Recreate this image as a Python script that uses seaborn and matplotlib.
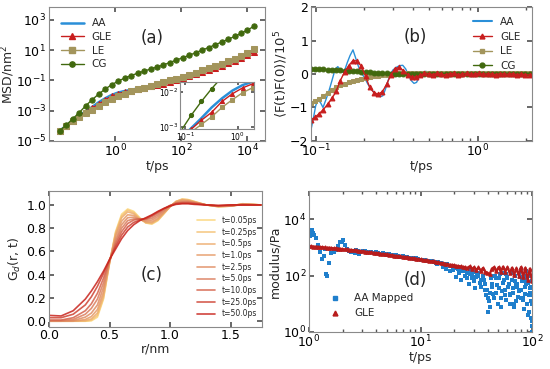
import matplotlib
matplotlib.use("Agg")
import numpy as np
import matplotlib.pyplot as plt
from matplotlib.lines import Line2D
from matplotlib.ticker import LogLocator, NullLocator, FixedLocator, NullFormatter
import seaborn as sns

# ---------------- (a) MSD, values are log10(MSD / nm^2) ----------------
t_msd = [0.0214, 0.0336, 0.0527, 0.0828, 0.130, 0.204, 0.321, 0.504, 0.791, 1.24,
         1.95, 3.06, 4.81, 7.55, 11.9, 18.6, 29.2, 45.9, 72.1, 113,
         178, 279, 439, 689, 1081, 1698, 2667, 4188, 6577, 10328, 16218]
msd_aa = [-4.31, -3.98, -3.65, -3.34, -3.04, -2.75, -2.44, -2.18, -1.96, -1.80,
          -1.70, -1.62, -1.54, -1.46, -1.38, -1.29, -1.19, -1.08, -0.96, -0.84,
          -0.71, -0.58, -0.44, -0.30, -0.15, 0.01, 0.17, 0.34, 0.52, 0.72, 0.95]
msd_gle = [-4.31, -3.99, -3.67, -3.36, -3.07, -2.81, -2.58, -2.27, -2.05, -1.88,
           -1.76, -1.67, -1.58, -1.49, -1.40, -1.31, -1.21, -1.10, -0.99, -0.87,
           -0.74, -0.61, -0.47, -0.33, -0.19, -0.04, 0.12, 0.28, 0.46, 0.66, 0.88]
msd_le = [-4.31, -4.00, -3.70, -3.42, -3.15, -2.93, -2.71, -2.44, -2.22, -2.02,
          -1.87, -1.73, -1.60, -1.48, -1.36, -1.24, -1.12, -1.00, -0.88, -0.75,
          -0.62, -0.48, -0.34, -0.20, -0.05, 0.10, 0.27, 0.44, 0.63, 0.83, 1.05]
msd_cg = [-4.31, -3.94, -3.53, -3.12, -2.67, -2.27, -1.90, -1.57, -1.29, -1.05,
          -0.85, -0.68, -0.53, -0.39, -0.25, -0.12, 0.02, 0.18, 0.34, 0.50,
          0.66, 0.83, 1.00, 1.17, 1.35, 1.53, 1.71, 1.90, 2.10, 2.33, 2.57]

# ---------------- (b) force autocorrelation / 1e5 ----------------
t_acf_aa = [0.0935, 0.097, 0.100, 0.103, 0.107, 0.111, 0.115, 0.120, 0.126, 0.132,
            0.137, 0.142, 0.147, 0.152, 0.157, 0.163, 0.170, 0.176, 0.183, 0.190,
            0.200, 0.210, 0.220, 0.230, 0.240, 0.250, 0.260, 0.270, 0.280, 0.290,
            0.300, 0.315, 0.330, 0.345, 0.360, 0.375, 0.390, 0.405, 0.420, 0.440,
            0.460, 0.480, 0.500, 0.53, 0.56, 0.60, 0.64, 0.68, 0.72, 0.77,
            0.82, 0.88, 0.94, 1.00, 1.07, 1.15, 1.23, 1.32, 1.42, 1.52,
            1.63, 1.75, 1.88, 2.00, 2.15]
acf_aa = [-1.67, -1.30, -0.95, -0.78, -0.85, -1.00, -0.80, -0.55, -0.20, 0.15,
          0.22, 0.12, 0.05, 0.15, 0.35, 0.55, 0.72, 0.50, 0.25, 0.05,
          -0.10, -0.30, -0.45, -0.55, -0.62, -0.68, -0.65, -0.45, -0.20, 0.00,
          0.12, 0.20, 0.25, 0.26, 0.15, -0.05, -0.20, -0.28, -0.25, -0.05,
          0.05, 0.08, 0.02, -0.04, 0.03, -0.02, 0.04, 0.00, -0.03, 0.02,
          0.01, -0.02, 0.03, 0.00, -0.02, 0.02, 0.00, -0.01, 0.02, -0.02,
          0.01, 0.00, -0.02, 0.01, -0.02]
t_acf = [0.0933, 0.0991, 0.1052, 0.1117, 0.1186, 0.1259, 0.1337, 0.1419, 0.1507, 0.1600,
         0.1698, 0.1803, 0.1914, 0.2032, 0.2158, 0.2291, 0.2432, 0.2582, 0.2742, 0.2911,
         0.3090, 0.3281, 0.3483, 0.3698, 0.3926, 0.4169, 0.4426, 0.4699, 0.4989, 0.5297,
         0.5623, 0.5970, 0.6339, 0.6730, 0.7145, 0.7586, 0.8054, 0.8551, 0.9078, 0.9638,
         1.0233, 1.0864, 1.1535, 1.2246, 1.3002, 1.3804, 1.4655, 1.5560, 1.6520, 1.7539,
         1.8621, 1.9770, 2.0989]
acf_gle = [-1.37, -1.29, -1.18, -1.06, -0.90, -0.73, -0.52, -0.20, 0.06, 0.25,
           0.40, 0.39, 0.23, -0.07, -0.40, -0.56, -0.60, -0.53, -0.31, -0.03,
           0.16, 0.20, 0.10, -0.02, -0.09, -0.10, -0.04, 0.02, 0.01, -0.02,
           0.02, 0.00, -0.03, 0.01, 0.02, -0.02, 0.00, 0.02, -0.01, 0.00,
           0.02, -0.01, 0.01, 0.00, -0.02, 0.01, 0.00, -0.01, 0.01, -0.02,
           0.00, -0.02, -0.03]
acf_le = [-0.87, -0.81, -0.74, -0.65, -0.56, -0.48, -0.38, -0.33, -0.29, -0.24,
          -0.21, -0.19, -0.15, -0.13, -0.09, -0.07, -0.06, -0.04, -0.02, 0.00,
          0.01, 0.02, 0.02, 0.03, 0.03, 0.03, 0.03, 0.02, 0.03, 0.03,
          0.03, 0.02, 0.03, 0.03, 0.02, 0.03, 0.03, 0.02, 0.03, 0.02,
          0.03, 0.02, 0.02, 0.03, 0.02, 0.02, 0.03, 0.02, 0.02, 0.02,
          0.03, 0.02, 0.02]
acf_cg = [0.15, 0.145, 0.14, 0.135, 0.13, 0.12, 0.115, 0.11, 0.10, 0.09,
          0.085, 0.075, 0.065, 0.055, 0.045, 0.04, 0.03, 0.025, 0.02, 0.015,
          0.01, 0.005, 0.005, 0.00, 0.00, 0.01, 0.00, 0.01, 0.00, 0.01,
          0.00, 0.01, 0.00, 0.01, 0.01, 0.00, 0.01, 0.00, 0.01, 0.01,
          0.00, 0.01, 0.01, 0.00, 0.01, 0.01, 0.00, 0.01, 0.01, 0.00,
          0.01, 0.01, 0.01]

# ---------------- (c) G_d(r, t) ----------------
r_nm = [0.0, 0.1, 0.2, 0.3, 0.35, 0.4, 0.45, 0.5, 0.55, 0.6, 0.65, 0.7, 0.75, 0.8,
        0.85, 0.9, 0.95, 1.0, 1.05, 1.1, 1.15, 1.2, 1.3, 1.4, 1.5, 1.6, 1.75]
gd_labels = ["t=0.05ps", "t=0.25ps", "t=0.5ps", "t=1.0ps", "t=2.5ps",
             "t=5.0ps", "t=10.0ps", "t=25.0ps", "t=50.0ps"]
gd_005 = [0, 0, 0, 0, 0.003, 0.035, 0.19, 0.50, 0.77, 0.92, 0.965, 0.945, 0.89, 0.845,
          0.835, 0.865, 0.925, 0.985, 1.03, 1.05, 1.045, 1.03, 1.0, 0.985, 0.99, 1.01, 1.0]
gd_025 = [0, 0, 0, 0, 0.01, 0.05, 0.20, 0.50, 0.76, 0.905, 0.955, 0.935, 0.885, 0.845,
          0.84, 0.87, 0.925, 0.985, 1.03, 1.05, 1.045, 1.03, 1.0, 0.985, 0.99, 1.01, 1.0]
gd_05 = [0, 0, 0, 0.005, 0.02, 0.07, 0.22, 0.50, 0.75, 0.89, 0.94, 0.925, 0.88, 0.85,
         0.845, 0.875, 0.93, 0.985, 1.03, 1.045, 1.04, 1.025, 1.0, 0.985, 0.99, 1.01, 1.0]
gd_1 = [0, 0, 0, 0.015, 0.04, 0.10, 0.25, 0.51, 0.73, 0.86, 0.915, 0.91, 0.875, 0.855,
        0.855, 0.885, 0.935, 0.985, 1.025, 1.04, 1.035, 1.025, 1.0, 0.99, 0.99, 1.005, 1.0]
gd_25 = [0, 0, 0.005, 0.035, 0.07, 0.14, 0.29, 0.51, 0.70, 0.83, 0.89, 0.895, 0.875, 0.865,
         0.87, 0.90, 0.945, 0.99, 1.02, 1.03, 1.03, 1.02, 1.0, 0.99, 0.99, 1.005, 1.0]
gd_5 = [0.005, 0.005, 0.015, 0.06, 0.11, 0.19, 0.33, 0.52, 0.68, 0.80, 0.865, 0.88, 0.88, 0.875,
        0.885, 0.915, 0.955, 0.99, 1.015, 1.025, 1.025, 1.02, 1.0, 0.99, 0.995, 1.005, 1.0]
gd_10 = [0.01, 0.01, 0.03, 0.09, 0.15, 0.24, 0.37, 0.52, 0.66, 0.77, 0.84, 0.87, 0.88, 0.88,
         0.90, 0.93, 0.965, 0.995, 1.015, 1.02, 1.02, 1.015, 1.0, 0.99, 0.995, 1.0, 1.0]
gd_25b = [0.03, 0.03, 0.06, 0.14, 0.21, 0.30, 0.41, 0.53, 0.64, 0.74, 0.81, 0.85, 0.87, 0.885,
          0.91, 0.94, 0.97, 0.995, 1.01, 1.015, 1.015, 1.01, 1.0, 0.995, 1.0, 1.0, 1.0]
gd_50 = [0.05, 0.045, 0.09, 0.19, 0.26, 0.34, 0.43, 0.53, 0.62, 0.71, 0.78, 0.83, 0.865, 0.89,
         0.915, 0.945, 0.97, 0.99, 1.005, 1.01, 1.01, 1.005, 1.0, 0.995, 1.0, 1.0, 1.0]
gd_curves = [gd_005, gd_025, gd_05, gd_1, gd_25, gd_5, gd_10, gd_25b, gd_50]

# ---------------- (d) modulus, values are log10(G / Pa) ----------------
t_mod = [1.0, 1.047, 1.096, 1.148, 1.202, 1.259, 1.318, 1.380, 1.445, 1.514,
         1.585, 1.660, 1.738, 1.820, 1.905, 1.995, 2.089, 2.188, 2.291, 2.399,
         2.512, 2.630, 2.754, 2.884, 3.020, 3.162, 3.311, 3.467, 3.631, 3.802,
         3.981, 4.169, 4.365, 4.571, 4.786, 5.012, 5.248, 5.495, 5.754, 6.026,
         6.310, 6.607, 6.918, 7.244, 7.586, 7.943, 8.318, 8.710, 9.120, 9.550,
         10.0, 10.47, 10.96, 11.48, 12.02, 12.59, 13.18, 13.80, 14.45, 15.14,
         15.85, 16.60, 17.38, 18.20, 19.05, 19.95, 20.89, 21.88, 22.91, 23.99,
         25.12, 26.30, 27.54, 28.84, 30.20, 31.62, 33.11, 34.67, 36.31, 38.02,
         39.81, 41.69, 43.65, 45.71, 47.86, 50.12, 52.48, 54.95, 57.54, 60.26,
         63.10, 66.07, 69.18, 72.44, 75.86, 79.43, 83.18, 87.10, 91.20, 95.50, 100.0]
mod_gle = [3.04, 3.04, 3.03, 3.03, 3.02, 3.01, 3.01, 3.00, 2.99, 2.99,
           2.98, 2.97, 2.97, 2.96, 2.95, 2.94, 2.93, 2.93, 2.92, 2.91,
           2.90, 2.89, 2.88, 2.87, 2.86, 2.85, 2.84, 2.83, 2.82, 2.81,
           2.80, 2.79, 2.78, 2.77, 2.76, 2.75, 2.74, 2.73, 2.71, 2.70,
           2.69, 2.68, 2.67, 2.66, 2.65, 2.64, 2.62, 2.61, 2.60, 2.59,
           2.58, 2.56, 2.55, 2.54, 2.52, 2.51, 2.50, 2.48, 2.47, 2.45,
           2.44, 2.42, 2.41, 2.39, 2.38, 2.37, 2.35, 2.34, 2.33, 2.31,
           2.30, 2.26, 2.33, 2.22, 2.30, 2.20, 2.29, 2.17, 2.27, 2.14,
           2.10, 2.05, 2.25, 2.30, 2.15, 2.30, 2.12, 2.32, 2.14, 2.30,
           2.08, 2.28, 2.02, 2.26, 2.00, 2.30, 1.95, 2.28, 1.85, 2.25, 1.80]
mod_aa = [3.55, 3.45, 3.50, 3.35, 3.10, 2.85, 2.60, 2.95, 2.00, 2.45,
          2.80, 2.85, 2.92, 3.05, 3.18, 3.20, 3.10, 2.95, 2.88, 2.85,
          2.88, 2.90, 2.88, 2.84, 2.86, 2.88, 2.85, 2.83, 2.82, 2.80,
          2.82, 2.79, 2.78, 2.80, 2.76, 2.74, 2.76, 2.72, 2.70, 2.73,
          2.69, 2.66, 2.68, 2.65, 2.66, 2.62, 2.64, 2.60, 2.62, 2.58,
          2.57, 2.55, 2.56, 2.52, 2.53, 2.50, 2.49, 2.46, 2.47, 2.43,
          2.42, 2.38, 2.40, 2.35, 2.33, 2.30, 2.28, 2.25, 2.22, 2.25,
          2.18, 2.10, 2.20, 2.05, 2.12, 1.95, 2.10, 1.85, 2.00, 1.70,
          1.50, 0.90, 1.60, 2.00, 1.40, 1.90, 1.20, 2.10, 1.50, 1.90,
          1.30, 2.10, 1.00, 1.70, 1.50, 2.20, 1.20, 1.80, 0.60, 1.40, 0.40]
t_mod_extra = [1.02, 1.06, 1.12, 1.35, 1.42, 1.9, 2.0, 2.6, 2.8, 22,
               24, 26, 28, 30, 33, 35, 37, 39, 40, 41,
               42, 44, 46, 48, 51, 53, 55, 57, 59, 61,
               63, 66, 68, 70, 72, 74, 76, 78, 80, 82,
               84, 86, 88, 90, 92, 94, 96, 97, 98, 99, 100, 100,
               21, 23, 25, 27, 29, 31, 32, 34, 36, 38,
               40.5, 43, 45, 47, 49, 50, 52, 54, 56, 58,
               60, 62, 64, 65, 67, 69, 71, 73, 75, 77,
               79, 81, 83, 85, 87, 89, 91, 93, 95, 97,
               98.5, 99.5, 17, 18.5, 19.5, 16, 14, 12.5, 11, 9.5]
mod_aa_extra = [3.40, 3.60, 3.45, 2.70, 2.05, 3.20, 3.25, 2.80, 2.78, 2.10,
                2.15, 1.90, 2.05, 1.80, 2.00, 1.60, 1.85, 1.30, 0.70, 1.10,
                1.40, 1.70, 1.20, 1.90, 1.55, 0.90, 1.75, 1.30, 2.05, 1.60,
                1.00, 1.85, 1.40, 2.00, 1.10, 1.70, 1.45, 1.95, 1.20, 1.80,
                0.80, 1.60, 2.15, 1.00, 1.75, 1.30, 2.00, 1.10, 1.60, 0.20, 1.00, 0.00,
                1.95, 1.85, 2.00, 1.70, 1.90, 1.55, 2.10, 1.75, 1.95, 1.50,
                1.20, 1.90, 1.35, 2.00, 1.65, 1.00, 2.05, 1.45, 1.85, 1.15,
                1.95, 1.70, 1.35, 2.10, 1.55, 0.90, 1.80, 1.60, 1.25, 2.10,
                1.50, 1.85, 1.15, 2.00, 1.35, 1.70, 1.90, 0.70, 1.55, 1.30,
                0.50, 1.80, 2.25, 2.15, 2.20, 2.30, 2.40, 2.50, 2.55, 2.60]

# ---------------- style ----------------
sns.set_theme(style="ticks", rc={
    "xtick.direction": "in", "ytick.direction": "in",
    "xtick.top": True, "ytick.right": True,
    "axes.edgecolor": "#8a8a8a", "axes.linewidth": 0.8,
    "xtick.color": "#555555", "ytick.color": "#555555",
    "xtick.labelcolor": "black", "ytick.labelcolor": "black",
    "xtick.major.size": 3.5, "ytick.major.size": 3.5,
    "xtick.minor.size": 2, "ytick.minor.size": 2,
    "xtick.major.pad": 1.5, "ytick.major.pad": 2.0,
    "font.size": 9, "axes.labelsize": 9,
    "xtick.labelsize": 9, "ytick.labelsize": 9,
    "legend.frameon": False, "axes.labelpad": 0.5,
})
plt.rcParams["font.family"] = ["DejaVu Sans"]

c_aa, c_gle, c_le, c_cg = "#2a8fd8", "#c81e1e", "#a3955c", "#41690e"

fig = plt.figure(figsize=(5.5, 3.69), dpi=100)
ax_a = fig.add_axes([0.0891, 0.6179, 0.3927, 0.3631])
ax_b = fig.add_axes([0.5655, 0.6179, 0.4018, 0.3631])
ax_c = fig.add_axes([0.0891, 0.1138, 0.3873, 0.3686])
ax_d = fig.add_axes([0.5618, 0.1003, 0.4055, 0.3821])
ax_in = fig.add_axes([0.3273, 0.6504, 0.1345, 0.1274])


def msd_lines(ax, ms):
    sns.lineplot(x=t_msd, y=10 ** np.array(msd_aa), ax=ax, color=c_aa, lw=1.8, errorbar=None)
    sns.lineplot(x=t_msd, y=10 ** np.array(msd_gle), ax=ax, color=c_gle, lw=1.0,
                 marker="^", ms=ms, mec=c_gle, errorbar=None)
    sns.lineplot(x=t_msd, y=10 ** np.array(msd_le), ax=ax, color=c_le, lw=1.0,
                 marker="s", ms=ms, mec=c_le, errorbar=None)
    sns.lineplot(x=t_msd, y=10 ** np.array(msd_cg), ax=ax, color=c_cg, lw=1.0,
                 marker="o", ms=ms, mec=c_cg, errorbar=None)


# (a)
msd_lines(ax_a, 3.8)
ax_a.set_xscale("log")
ax_a.set_yscale("log")
ax_a.set_xlim(1e-2, 3.5e4)
ax_a.set_ylim(1e-5, 7e3)
ax_a.xaxis.set_major_locator(FixedLocator([1, 1e2, 1e4]))
ax_a.yaxis.set_major_locator(FixedLocator([1e-5, 1e-3, 1e-1, 1e1, 1e3]))
ax_a.xaxis.set_minor_locator(NullLocator())
ax_a.yaxis.set_minor_locator(NullLocator())
ax_a.set_xlabel("t/ps")
ax_a.set_ylabel("MSD/nm$^2$")
ax_a.yaxis.set_label_coords(-0.15, 0.5)
ax_a.text(0.477, 0.77, "(a)", transform=ax_a.transAxes, fontsize=12, ha="center", va="center")
h_msd = [Line2D([], [], color=c_aa, lw=1.8),
         Line2D([], [], color=c_gle, lw=1.0, marker="^", ms=3.8),
         Line2D([], [], color=c_le, lw=1.0, marker="s", ms=3.8),
         Line2D([], [], color=c_cg, lw=1.0, marker="o", ms=3.8)]
ax_a.legend(h_msd, ["AA", "GLE", "LE", "CG"], loc="upper left", fontsize=7.5,
            handlelength=2.2, labelspacing=0.35, borderaxespad=0.3, bbox_to_anchor=(0.02, 0.97))

# inset
msd_lines(ax_in, 3.0)
ax_in.set_xscale("log")
ax_in.set_yscale("log")
ax_in.set_xlim(0.08, 2.05)
ax_in.set_ylim(8.7e-4, 1.95e-2)
ax_in.xaxis.set_major_locator(FixedLocator([0.1, 1]))
ax_in.yaxis.set_major_locator(FixedLocator([1e-3, 1e-2]))
ax_in.xaxis.set_minor_locator(NullLocator())
ax_in.yaxis.set_minor_locator(NullLocator())
ax_in.tick_params(labelsize=5.5, pad=1, length=2)
ax_in.set_xlabel("")
ax_in.set_ylabel("")

# (b)
sns.lineplot(x=t_acf_aa, y=acf_aa, ax=ax_b, color=c_aa, lw=1.0, errorbar=None)
sns.lineplot(x=t_acf, y=acf_le, ax=ax_b, color=c_le, lw=1.0, marker="s", ms=3.5, mec=c_le, errorbar=None)
sns.lineplot(x=t_acf, y=acf_cg, ax=ax_b, color=c_cg, lw=1.0, marker="o", ms=3.5, mec=c_cg, errorbar=None)
sns.lineplot(x=t_acf, y=acf_gle, ax=ax_b, color=c_gle, lw=1.0, marker="^", ms=3.5, mec=c_gle, errorbar=None)
ax_b.set_xscale("log")
ax_b.set_xlim(0.0936, 2.17)
ax_b.set_ylim(-2, 2)
ax_b.yaxis.set_major_locator(FixedLocator([-2, -1, 0, 1, 2]))
ax_b.xaxis.set_major_locator(FixedLocator([0.1, 1]))
ax_b.xaxis.set_minor_locator(LogLocator(base=10, subs=np.arange(2, 10)))
ax_b.xaxis.set_minor_formatter(NullFormatter())
ax_b.set_xlabel("t/ps")
ax_b.set_ylabel(r"$\langle$F(t)F(0)$\rangle$/10$^5$", fontsize=9.5)
ax_b.yaxis.set_label_coords(-0.095, 0.5)
ax_b.text(0.47, 0.776, "(b)", transform=ax_b.transAxes, fontsize=12, ha="center", va="center")
h_b = [Line2D([], [], color=c_aa, lw=1.5),
       Line2D([], [], color=c_gle, lw=1.0, marker="^", ms=3.5),
       Line2D([], [], color=c_le, lw=1.0, marker="s", ms=3.5),
       Line2D([], [], color=c_cg, lw=1.0, marker="o", ms=3.5)]
ax_b.legend(h_b, ["AA", "GLE", "LE", "CG"], loc="upper right", fontsize=7.5,
            handlelength=1.8, labelspacing=0.45, borderaxespad=0.3, bbox_to_anchor=(0.98, 0.98))

# (c)
gd_colors = sns.blend_palette(["#fcd67a", "#e8a06a", "#d97a5c", "#c8231c"], len(gd_curves))
for vals, lab, col in zip(gd_curves, gd_labels, gd_colors):
    sns.lineplot(x=r_nm, y=vals, ax=ax_c, color=col, lw=1.2, alpha=0.85, label=lab, errorbar=None)
ax_c.set_xlim(0, 1.76)
ax_c.set_ylim(-0.05, 1.12)
ax_c.xaxis.set_major_locator(FixedLocator([0, 0.5, 1.0, 1.5]))
ax_c.yaxis.set_major_locator(FixedLocator([0, 0.2, 0.4, 0.6, 0.8, 1.0]))
ax_c.set_xlabel("r/nm")
ax_c.set_ylabel("G$_d$(r, t)")
ax_c.yaxis.set_label_coords(-0.122, 0.5)
ax_c.text(0.484, 0.38, "(c)", transform=ax_c.transAxes, fontsize=12, ha="center", va="center")
ax_c.legend(loc="center right", fontsize=5.5, handlelength=2.4, labelspacing=0.35,
            borderaxespad=0.3, bbox_to_anchor=(1.0, 0.44))

# (d)
sns.scatterplot(x=t_mod, y=10 ** np.array(mod_aa), ax=ax_d, color="#1f7fcc", marker="s",
                s=5, linewidth=0, legend=False)
sns.scatterplot(x=t_mod_extra, y=10 ** np.array(mod_aa_extra), ax=ax_d, color="#1f7fcc",
                marker="s", s=5, linewidth=0, legend=False)
sns.lineplot(x=t_mod, y=10 ** np.array(mod_gle), ax=ax_d, color="#b81c1c", lw=1.6,
             marker="^", ms=2.5, mec="#b81c1c", errorbar=None)
ax_d.set_xscale("log")
ax_d.set_yscale("log")
ax_d.set_xlim(1, 100)
ax_d.set_ylim(1, 1e5)
ax_d.yaxis.set_major_locator(FixedLocator([1, 1e2, 1e4]))
ax_d.yaxis.set_minor_locator(NullLocator())
ax_d.xaxis.set_major_locator(FixedLocator([1, 10, 100]))
ax_d.xaxis.set_minor_locator(LogLocator(base=10, subs=np.arange(2, 10)))
ax_d.xaxis.set_minor_formatter(NullFormatter())
ax_d.set_xlabel("t/ps")
ax_d.set_ylabel("modulus/Pa")
ax_d.yaxis.set_label_coords(-0.125, 0.5)
ax_d.text(0.475, 0.37, "(d)", transform=ax_d.transAxes, fontsize=12, ha="center", va="center")
h_d = [Line2D([], [], color="#1f7fcc", marker="s", ms=3.5, ls="none"),
       Line2D([], [], color="#b81c1c", marker="^", ms=3.5, ls="none")]
ax_d.legend(h_d, ["AA Mapped", "GLE"], loc="lower left", fontsize=7.5,
            handlelength=2.0, labelspacing=0.5, bbox_to_anchor=(0.03, 0.03))

fig.savefig("out.png", dpi=100)
